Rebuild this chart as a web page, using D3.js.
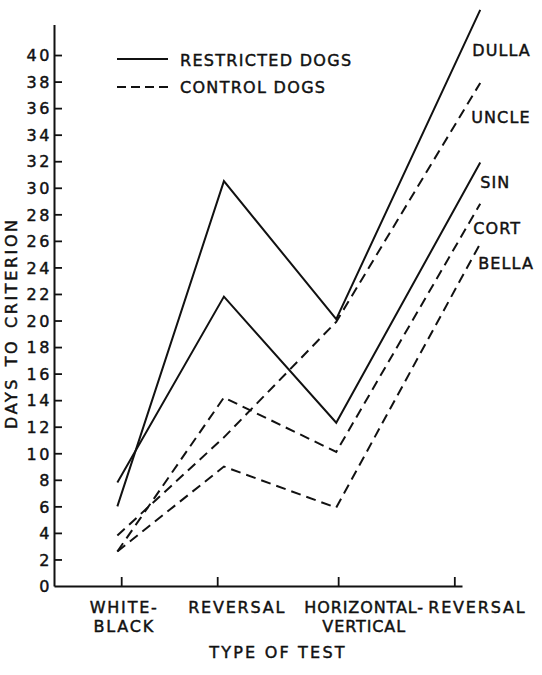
<!DOCTYPE html>
<html>
<head>
<meta charset="utf-8">
<script src="https://cdn.jsdelivr.net/npm/d3@7"></script>
<style>
    body { margin: 0; background: #fff; }
    svg text { font-family: "DejaVu Sans", sans-serif; fill: #111; stroke: #111; stroke-width: 0.45px; }
</style>
</head>
<body>
<div id="chart"></div>
<script>
// Tests on the x axis and where the figure puts their ticks (test units)
const tests = [["WHITE-", "BLACK"], ["REVERSAL"], ["HORIZONTAL-", "VERTICAL"], ["REVERSAL"]];
const testPos = [1, 2, 3.26, 4.47];
// x of the plotted points, drawn a little off the ticks in the source
const pointPos = [0.96, 2.07, 3.24, 4.74];

// Days to criterion per dog, one value per test
const dogs = ["DULLA", "UNCLE", "SIN", "CORT", "BELLA"];
const groups = ["restricted", "control", "restricted", "control", "control"];
const dulla = [6, 30.5, 20.1, 43.4];
const uncle = [3.8, 11.2, 19.9, 37.9];
const sin = [7.8, 21.8, 12.3, 31.9];
const cort = [2.6, 14.2, 10.1, 28.8];
const bella = [2.6, 9.0, 5.9, 25.8];
const yTicks = d3.range(0, 41, 2);

const legendItems = ["RESTRICTED DOGS", "CONTROL DOGS"];

const series = [dulla, uncle, sin, cort, bella];

// Layout
const width = 542, height = 675;
// name label offsets from each line end, px
const labelOffset = [[-8, 46], [-9, 40], [0, 25], [-7, 30], [-2, 25]];
// tick label shifts to the right of each tick, px
const tickLabelDx = [3, 20, 26, 23];

const svg = d3.select("#chart").append("svg")
    .attr("width", width)
    .attr("height", height);

const x = d3.scaleLinear().domain([0.3, 4.55]).range([54, 462]);
const y = d3.scaleLinear().domain([0, 42.3]).range([586, 24.5]);

// y axis, ticks pointing inwards
const yAxis = svg.append("g")
    .attr("transform", `translate(${x(0.3)},0)`)
    .call(d3.axisLeft(y).tickValues(yTicks).tickSize(-8).tickSizeOuter(0).tickPadding(0));
yAxis.select(".domain").attr("stroke", "#111").attr("stroke-width", 2);
yAxis.selectAll(".tick line").attr("stroke", "#111").attr("stroke-width", 1.8)
    .attr("opacity", d => d === 0 ? 0 : 1);
yAxis.selectAll(".tick text")
    .attr("x", -2)
    .attr("dy", "0.36em")
    .style("font-size", "16px")
    .style("letter-spacing", "2.6px")
    .style("font-family", "\"DejaVu Sans\", sans-serif")
    .attr("fill", "#111");

// x axis, ticks pointing up
const xAxis = svg.append("g")
    .attr("transform", `translate(0,${y(0)})`)
    .call(d3.axisBottom(x).tickValues(testPos).tickSize(-9).tickSizeOuter(0).tickFormat(""));
xAxis.select(".domain").attr("stroke", "#111").attr("stroke-width", 2);
xAxis.selectAll(".tick line").attr("stroke", "#111").attr("stroke-width", 1.8);

// x tick labels
tests.forEach((lines, i) => {
    const t = svg.append("text")
        .attr("text-anchor", "middle")
        .style("font-size", "16px")
        .style("letter-spacing", i === 2 ? "0.9px" : "1.8px");
    lines.forEach((s, j) => {
        t.append("tspan")
            .attr("x", x(testPos[i]) + tickLabelDx[i])
            .attr("y", 613 + j * 19)
            .text(s);
    });
});

// axis titles
svg.append("text")
    .attr("x", 278).attr("y", 658)
    .attr("text-anchor", "middle")
    .style("font-size", "16px")
    .style("letter-spacing", "2.2px")
    .text("TYPE OF TEST");

svg.append("text")
    .attr("transform", `translate(17,${y(19.8)}) rotate(-90)`)
    .attr("text-anchor", "middle")
    .style("font-size", "16px")
    .style("letter-spacing", "2.6px")
    .style("word-spacing", "3px")
    .text("DAYS TO CRITERION");

// lines
const line = d3.line()
    .x((d, i) => x(pointPos[i]))
    .y(d => y(d));

svg.selectAll(".dog")
    .data(series)
    .enter()
    .append("path")
    .attr("class", "dog")
    .attr("d", d => line(d))
    .attr("fill", "none")
    .attr("stroke", "#111")
    .attr("stroke-width", 2)
    .attr("stroke-dasharray", (d, i) => groups[i] === "control" ? "10,6" : null);

// dog names at line ends
svg.selectAll(".dog-label")
    .data(dogs)
    .enter()
    .append("text")
    .attr("class", "dog-label")
    .attr("x", (d, i) => x(pointPos[3]) + labelOffset[i][0])
    .attr("y", (d, i) => y(series[i][3]) + labelOffset[i][1])
    .style("font-size", "16px")
    .style("letter-spacing", "1.1px")
    .text(d => d);

// legend
const legend = svg.append("g");
legendItems.forEach((name, i) => {
    legend.append("line")
        .attr("x1", 117).attr("x2", 168)
        .attr("y1", 59 + i * 28).attr("y2", 59 + i * 28)
        .attr("stroke", "#111")
        .attr("stroke-width", 2)
        .attr("stroke-dasharray", i === 1 ? "9,5" : null);
    legend.append("text")
        .attr("x", 180).attr("y", 66 + i * 27)
        .style("font-size", "16px")
        .style("letter-spacing", "1.3px")
        .text(name);
});
</script>
</body>
</html>
